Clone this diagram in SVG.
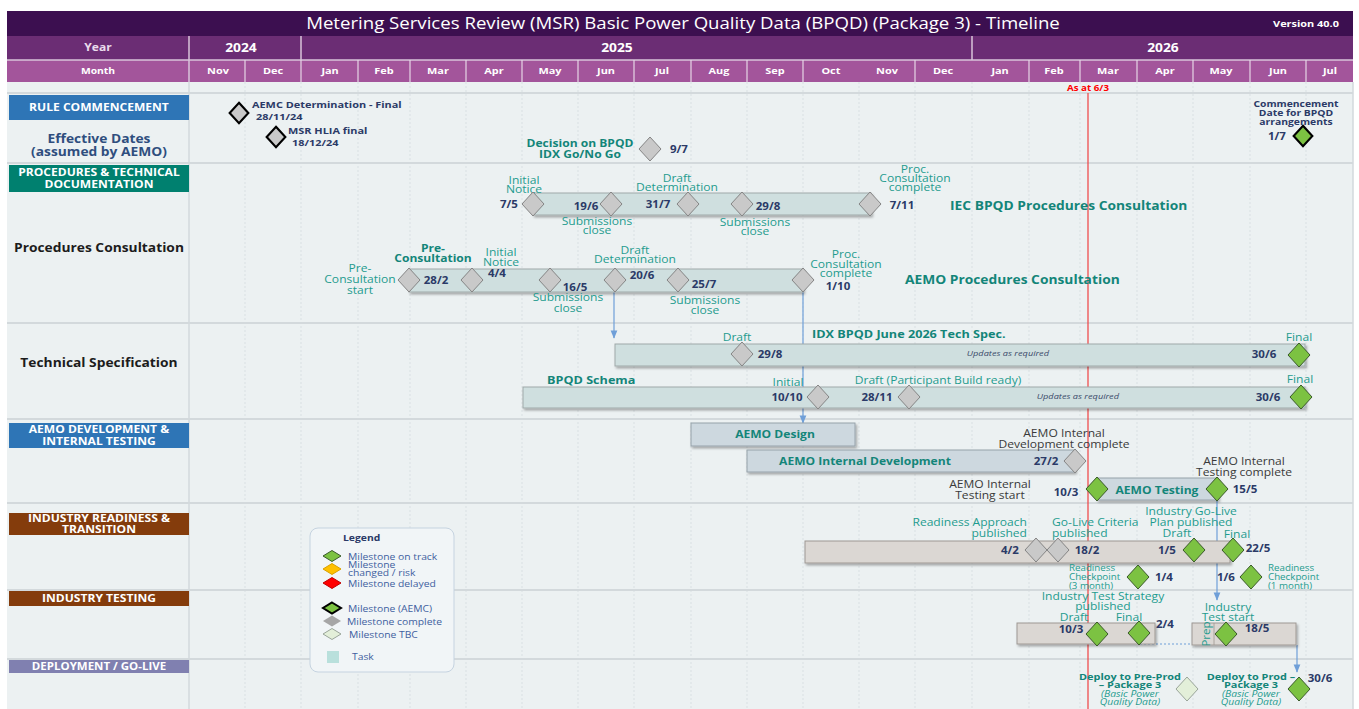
<svg xmlns="http://www.w3.org/2000/svg" width="1359" height="709" viewBox="0 0 1359 709">
<defs>
<style>
text{font-family:"Open Sans","Noto Sans",sans-serif;transform-box:fill-box;transform-origin:50% 50%;transform:scaleX(1.15)}
.s{transform-origin:0 50%}
.e{transform-origin:100% 50%}
.hdr{fill:#fff;font-weight:bold;font-size:9.5px;text-anchor:middle}
.yr{fill:#fff;font-weight:bold;font-size:12px;text-anchor:middle}
.sec{fill:#fff;font-weight:bold;font-size:10.5px;text-anchor:middle}
.lbl{fill:#1c1c1c;font-weight:bold;font-size:12px;text-anchor:middle}
.teal{fill:#1f9c8f;font-size:10.5px;text-anchor:middle}
.tealb{fill:#138579;font-weight:bold;font-size:10.5px;text-anchor:middle}
.big{fill:#138579;font-weight:bold;font-size:12px}
.date{fill:#2b3a67;font-weight:bold;font-size:10px;text-anchor:middle}
.navy{fill:#2b3a67;font-weight:bold;font-size:9.5px}
.gry{fill:#3a3a3a;font-size:10.5px;text-anchor:middle}
.upd{fill:#3a4a6a;font-style:italic;font-size:8px;text-anchor:middle}
.lg{fill:#3f5fa0;font-size:9px}
.dc{fill:#c9c9c9;stroke:#858585;stroke-width:1}
.da{fill:#c9c9c9;stroke:#000;stroke-width:2.5}
.dg{fill:#7cc242;stroke:#3a5a2a;stroke-width:1}
.dga{fill:#7cc242;stroke:#000;stroke-width:2.5}
.dt{fill:#e3efd9;stroke:#9aa59a;stroke-width:1}
.do{fill:#ffc000;stroke:#d9a000;stroke-width:1}
.dr{fill:#ff0000;stroke:#c00000;stroke-width:1}
.bar{fill:#cfdfdf;stroke:#9fa9a9;stroke-width:1;filter:url(#sh)}
.barb{fill:#cdd8df;stroke:#96a2aa;stroke-width:1;filter:url(#sh)}
.barg{fill:#dbd7d3;stroke:#9e9893;stroke-width:1;filter:url(#sh)}
.grid{stroke:#d9e0e3;stroke-width:1;stroke-dasharray:2 2}
.sep{stroke:#d3d9dc;stroke-width:2}
.conn{stroke:#6f9fd8;stroke-width:1.2;fill:none}
</style>
<filter id="sh" x="-5%" y="-20%" width="110%" height="160%">
<feDropShadow dx="1.5" dy="2" stdDeviation="1.2" flood-color="#000" flood-opacity="0.3"/>
</filter>
<path id="dm" d="M0,-12L11,0L0,12L-11,0Z"/>
<path id="dl" d="M0,-5.5L9,0L0,5.5L-9,0Z"/>
<marker id="arr" viewBox="0 0 10 10" refX="9" refY="5" markerWidth="7" markerHeight="7" orient="auto">
<path d="M0,1L10,5L0,9Z" fill="#6f9fd8"/>
</marker>
</defs>

<!-- background -->
<rect x="0" y="0" width="1359" height="709" fill="#fff"/>
<rect x="7" y="82" width="1346" height="627" fill="#ecf1f2"/>

<!-- header -->
<g id="header">
<rect x="7" y="11" width="1346" height="25" fill="#3c0f50"/>
<text x="683" y="29" fill="#fff" font-size="16.2" text-anchor="middle">Metering Services Review (MSR) Basic Power Quality Data (BPQD) (Package 3) - Timeline</text>
<text x="1306" y="27" class="hdr" style="font-size:9.5px">Version 40.0</text>
<rect x="7" y="36" width="1346" height="24" fill="#6b2d74"/>
<rect x="7" y="60" width="1346" height="22" fill="#a3559b"/>
<g stroke="#d8c4da" stroke-width="1.5">
<line x1="189" y1="36" x2="189" y2="82"/>
<line x1="301" y1="36" x2="301" y2="60"/>
<line x1="972" y1="36" x2="972" y2="60"/>
<line x1="7" y1="60" x2="1353" y2="60"/>
</g>
<g stroke="#e6d6e6" stroke-width="1.2">
<line x1="245" y1="60" x2="245" y2="82"/><line x1="301" y1="60" x2="301" y2="82"/><line x1="358" y1="60" x2="358" y2="82"/><line x1="410" y1="60" x2="410" y2="82"/><line x1="466" y1="60" x2="466" y2="82"/><line x1="522" y1="60" x2="522" y2="82"/><line x1="578" y1="60" x2="578" y2="82"/><line x1="634" y1="60" x2="634" y2="82"/><line x1="691" y1="60" x2="691" y2="82"/><line x1="747" y1="60" x2="747" y2="82"/><line x1="803" y1="60" x2="803" y2="82"/><line x1="915" y1="60" x2="915" y2="82"/><line x1="1029" y1="60" x2="1029" y2="82"/><line x1="1080" y1="60" x2="1080" y2="82"/><line x1="1137" y1="60" x2="1137" y2="82"/><line x1="1193" y1="60" x2="1193" y2="82"/><line x1="1250" y1="60" x2="1250" y2="82"/><line x1="1306" y1="60" x2="1306" y2="82"/>
</g>
<text x="98" y="51" class="hdr" style="font-size:10.5px;fill:#eadcec">Year</text>
<text x="241" y="52" class="yr">2024</text>
<text x="617" y="52" class="yr">2025</text>
<text x="1163" y="52" class="yr">2026</text>
<text x="98" y="74" class="hdr" style="font-size:9px">Month</text>
<g>
<text x="218" y="74" class="hdr">Nov</text><text x="273" y="74" class="hdr">Dec</text><text x="330" y="74" class="hdr">Jan</text><text x="384" y="74" class="hdr">Feb</text><text x="438" y="74" class="hdr">Mar</text><text x="494" y="74" class="hdr">Apr</text><text x="550" y="74" class="hdr">May</text><text x="606" y="74" class="hdr">Jun</text><text x="662" y="74" class="hdr">Jul</text><text x="719" y="74" class="hdr">Aug</text><text x="775" y="74" class="hdr">Sep</text><text x="831" y="74" class="hdr">Oct</text><text x="887" y="74" class="hdr">Nov</text><text x="943" y="74" class="hdr">Dec</text><text x="1000" y="74" class="hdr">Jan</text><text x="1054" y="74" class="hdr">Feb</text><text x="1108" y="74" class="hdr">Mar</text><text x="1165" y="74" class="hdr">Apr</text><text x="1221" y="74" class="hdr">May</text><text x="1278" y="74" class="hdr">Jun</text><text x="1330" y="74" class="hdr">Jul</text>
</g>
</g>

<!-- grid -->
<g id="grid">
<line x1="189" y1="82" x2="189" y2="709" stroke="#d3d9dc" stroke-width="1.5"/>
<g class="grid">
<line x1="245" y1="82" x2="245" y2="709"/><line x1="301" y1="82" x2="301" y2="709"/><line x1="358" y1="82" x2="358" y2="709"/><line x1="410" y1="82" x2="410" y2="709"/><line x1="466" y1="82" x2="466" y2="709"/><line x1="522" y1="82" x2="522" y2="709"/><line x1="578" y1="82" x2="578" y2="709"/><line x1="634" y1="82" x2="634" y2="709"/><line x1="691" y1="82" x2="691" y2="709"/><line x1="747" y1="82" x2="747" y2="709"/><line x1="803" y1="82" x2="803" y2="709"/><line x1="859" y1="82" x2="859" y2="709"/><line x1="915" y1="82" x2="915" y2="709"/><line x1="972" y1="82" x2="972" y2="709"/><line x1="1029" y1="82" x2="1029" y2="709"/><line x1="1080" y1="82" x2="1080" y2="709"/><line x1="1137" y1="82" x2="1137" y2="709"/><line x1="1193" y1="82" x2="1193" y2="709"/><line x1="1250" y1="82" x2="1250" y2="709"/><line x1="1306" y1="82" x2="1306" y2="709"/>
</g>
<g class="sep">
<line x1="7" y1="93" x2="1353" y2="93"/><line x1="7" y1="163" x2="1353" y2="163"/><line x1="7" y1="323" x2="1353" y2="323"/><line x1="7" y1="419" x2="1353" y2="419"/><line x1="7" y1="503" x2="1353" y2="503"/><line x1="7" y1="590" x2="1353" y2="590"/><line x1="7" y1="659" x2="1353" y2="659"/>
</g>
<line x1="1353" y1="82" x2="1353" y2="709" stroke="#d3d9dc" stroke-width="1.5"/>
</g>

<!-- left labels -->
<g id="sec-rule"><rect x="9" y="95" width="180" height="25" fill="#2e75b6"/><text x="99" y="111" class="sec">RULE COMMENCEMENT</text></g>
<g id="lbl-effective"><text x="99" y="143" class="lbl" style="fill:#2f4e7e">Effective Dates</text><text x="99" y="156" class="lbl" style="fill:#2f4e7e">(assumed by AEMO)</text></g>
<g id="sec-proc"><rect x="9" y="165" width="180" height="27" fill="#00806f"/><text x="99" y="176" class="sec">PROCEDURES &amp; TECHNICAL</text><text x="99" y="188" class="sec">DOCUMENTATION</text></g>
<g id="lbl-procons"><text x="99" y="252" class="lbl">Procedures Consultation</text></g>
<g id="lbl-techspec"><text x="99" y="367" class="lbl">Technical Specification</text></g>
<g id="sec-aemodev"><rect x="9" y="423" width="180" height="25" fill="#2e75b6"/><text x="99" y="433" class="sec">AEMO DEVELOPMENT &amp;</text><text x="99" y="445" class="sec">INTERNAL TESTING</text></g>
<g id="sec-readiness"><rect x="9" y="513" width="180" height="22" fill="#843c0c"/><text x="99" y="522" class="sec">INDUSTRY READINESS &amp;</text><text x="99" y="533" class="sec">TRANSITION</text></g>
<g id="sec-indtest"><rect x="9" y="591" width="180" height="15" fill="#843c0c"/><text x="99" y="602" class="sec">INDUSTRY TESTING</text></g>
<g id="sec-deploy"><rect x="9" y="660" width="180" height="13" fill="#8080b0"/><text x="99" y="670" class="sec" style="font-size:10px">DEPLOYMENT / GO-LIVE</text></g>

<!-- status line -->
<g id="asat">
<line x1="1088" y1="93" x2="1088" y2="709" stroke="#f04040" stroke-width="1.2"/>
<text x="1088" y="91" fill="#ff0000" font-weight="bold" font-size="8.5" text-anchor="middle">As at 6/3</text>
</g>

<!-- connectors -->
<g id="connectors">
<line x1="614" y1="292" x2="614" y2="338" class="conn" marker-end="url(#arr)"/>
<line x1="803" y1="292" x2="803" y2="423" class="conn" marker-end="url(#arr)"/>
<line x1="1217" y1="500" x2="1217" y2="600" class="conn" marker-end="url(#arr)"/>
<line x1="1140" y1="644" x2="1193" y2="644" stroke="#6f9fd8" stroke-width="1.2" stroke-dasharray="2 2"/>
<line x1="1297" y1="645" x2="1297" y2="672" class="conn" marker-end="url(#arr)"/>
</g>

<!-- Row 1 milestones -->
<g id="m-aemc">
<use href="#dm" class="da" transform="translate(239 113) scale(0.85)"/>
<text x="252" y="108" class="navy s">AEMC Determination - Final</text>
<text x="256" y="120" class="navy s">28/11/24</text>
</g>
<g id="m-hlia">
<use href="#dm" class="da" transform="translate(276 137) scale(0.85)"/>
<text x="288" y="134" class="navy s">MSR HLIA final</text>
<text x="292" y="146" class="navy s">18/12/24</text>
</g>
<g id="m-decision">
<text x="580" y="147" class="tealb">Decision on BPQD</text>
<text x="580" y="158" class="tealb">IDX Go/No Go</text>
<use href="#dm" x="650" y="149" class="dc"/>
<text x="679" y="153" class="date">9/7</text>
</g>
<g id="m-commence">
<text x="1296" y="107" class="date" style="font-size:9px">Commencement</text>
<text x="1296" y="116" class="date" style="font-size:9px">Date for BPQD</text>
<text x="1296" y="125" class="date" style="font-size:9px">arrangements</text>
<text x="1277" y="140" class="date">1/7</text>
<use href="#dm" class="dga" transform="translate(1303 136) scale(0.85)"/>
</g>

<!-- IEC procedures consultation -->
<g id="iec">
<rect x="533" y="193" width="338" height="22" class="bar"/>
<text x="524" y="184" class="teal">Initial</text><text x="524" y="193" class="teal">Notice</text>
<text x="509" y="208" class="date">7/5</text>
<use href="#dm" x="533" y="204" class="dc"/>
<text x="586" y="210" class="date">19/6</text>
<use href="#dm" x="611" y="204" class="dc"/>
<text x="597" y="225" class="teal">Submissions</text><text x="597" y="234" class="teal">close</text>
<text x="658" y="208" class="date">31/7</text>
<use href="#dm" x="688" y="204" class="dc"/>
<text x="677" y="182" class="teal">Draft</text><text x="677" y="191" class="teal">Determination</text>
<use href="#dm" x="742" y="204" class="dc"/>
<text x="768" y="210" class="date">29/8</text>
<text x="755" y="226" class="teal">Submissions</text><text x="755" y="235" class="teal">close</text>
<use href="#dm" x="870" y="204" class="dc"/>
<text x="902" y="209" class="date">7/11</text>
<text x="915" y="173" class="teal">Proc.</text><text x="915" y="182" class="teal">Consultation</text><text x="915" y="191" class="teal">complete</text>
<text x="950" y="210" class="big s">IEC BPQD  Procedures Consultation</text>
</g>

<!-- AEMO procedures consultation -->
<g id="aemo-proc">
<rect x="409" y="269" width="394" height="23" class="bar"/>
<text x="360" y="272" class="teal">Pre-</text><text x="360" y="283" class="teal">Consultation</text><text x="360" y="294" class="teal">start</text>
<text x="433" y="252" class="tealb">Pre-</text><text x="433" y="262" class="tealb">Consultation</text>
<use href="#dm" x="409" y="280" class="dc"/>
<text x="436" y="284" class="date">28/2</text>
<use href="#dm" x="472" y="280" class="dc"/>
<text x="501" y="256" class="teal">Initial</text><text x="501" y="266" class="teal">Notice</text>
<text x="497" y="277" class="date">4/4</text>
<use href="#dm" x="550" y="280" class="dc"/>
<text x="575" y="291" class="date">16/5</text>
<text x="568" y="301" class="teal">Submissions</text><text x="568" y="312" class="teal">close</text>
<use href="#dm" x="615" y="280" class="dc"/>
<text x="642" y="279" class="date">20/6</text>
<text x="635" y="254" class="teal">Draft</text><text x="635" y="263" class="teal">Determination</text>
<use href="#dm" x="678" y="280" class="dc"/>
<text x="704" y="288" class="date">25/7</text>
<text x="705" y="304" class="teal">Submissions</text><text x="705" y="314" class="teal">close</text>
<use href="#dm" x="803" y="280" class="dc"/>
<text x="838" y="290" class="date">1/10</text>
<text x="846" y="258" class="teal">Proc.</text><text x="846" y="268" class="teal">Consultation</text><text x="846" y="277" class="teal">complete</text>
<text x="905" y="284" class="big s">AEMO Procedures Consultation</text>
</g>

<!-- Technical specification -->
<g id="techspec">
<rect x="615" y="344" width="690" height="22" class="bar"/>
<text x="812" y="338" class="big s" style="font-size:11px">IDX BPQD June 2026 Tech Spec.</text>
<text x="737" y="341" class="teal">Draft</text>
<use href="#dm" x="742" y="354" class="dc"/>
<text x="770" y="358" class="date">29/8</text>
<text x="1008" y="356" class="upd">Updates as required</text>
<text x="1264" y="358" class="date">30/6</text>
<use href="#dm" x="1299" y="355" class="dg"/>
<text x="1299" y="341" class="teal">Final</text>
</g>
<g id="schema">
<rect x="523" y="387" width="782" height="21" class="bar"/>
<text x="547" y="384" class="big s" style="font-size:11px">BPQD Schema</text>
<text x="788" y="386" class="teal">Initial</text>
<text x="787" y="401" class="date">10/10</text>
<use href="#dm" x="818" y="397" class="dc"/>
<text x="877" y="401" class="date">28/11</text>
<use href="#dm" x="909" y="397" class="dc"/>
<text x="938" y="384" class="teal">Draft (Participant Build ready)</text>
<text x="1078" y="399" class="upd">Updates as required</text>
<text x="1268" y="401" class="date">30/6</text>
<use href="#dm" x="1301" y="397" class="dg"/>
<text x="1300" y="383" class="teal">Final</text>
</g>

<!-- AEMO development -->
<g id="aemo-design">
<rect x="691" y="423" width="164" height="23" class="barb"/>
<text x="775" y="438" class="tealb">AEMO Design</text>
</g>
<g id="aemo-intdev">
<rect x="747" y="450" width="328" height="22" class="barb"/>
<text x="865" y="465" class="tealb">AEMO Internal Development</text>
<text x="1046" y="465" class="date">27/2</text>
<use href="#dm" x="1075" y="461" class="dc"/>
<text x="1064" y="437" class="gry">AEMO Internal</text><text x="1064" y="448" class="gry">Development complete</text>
</g>
<g id="aemo-testing">
<rect x="1097" y="478" width="121" height="22" class="barb"/>
<use href="#dm" x="1097" y="489" class="dg"/>
<use href="#dm" x="1217" y="489" class="dg"/>
<text x="1157" y="494" class="tealb">AEMO Testing</text>
<text x="1066" y="496" class="date">10/3</text>
<text x="990" y="488" class="gry">AEMO Internal</text><text x="990" y="499" class="gry">Testing start</text>
<text x="1245" y="493" class="date">15/5</text>
<text x="1244" y="465" class="gry">AEMO Internal</text><text x="1244" y="476" class="gry">Testing complete</text>
</g>

<!-- Industry readiness -->
<g id="readiness">
<rect x="805" y="541" width="425" height="22" class="barg"/>
<text x="1027" y="526" class="teal e" style="text-anchor:end">Readiness Approach</text>
<text x="1027" y="537" class="teal e" style="text-anchor:end">published</text>
<text x="1010" y="554" class="date">4/2</text>
<use href="#dm" x="1036" y="550" class="dc"/>
<use href="#dm" x="1058" y="550" class="dc"/>
<text x="1087" y="554" class="date">18/2</text>
<text x="1052" y="526" class="teal s" style="text-anchor:start">Go-Live Criteria</text>
<text x="1052" y="537" class="teal s" style="text-anchor:start">published</text>
<text x="1191" y="515" class="teal">Industry Go-Live</text>
<text x="1191" y="526" class="teal">Plan published</text>
<text x="1177" y="537" class="teal">Draft</text>
<text x="1237" y="538" class="teal">Final</text>
<text x="1167" y="554" class="date">1/5</text>
<use href="#dm" x="1194" y="550" class="dg"/>
<use href="#dm" x="1233" y="550" class="dg"/>
<text x="1258" y="552" class="date">22/5</text>
</g>
<g id="checkpoint3">
<text x="1069" y="571" class="teal s" style="text-anchor:start;font-size:8.5px">Readiness</text>
<text x="1069" y="580" class="teal s" style="text-anchor:start;font-size:8.5px">Checkpoint</text>
<text x="1069" y="589" class="teal s" style="text-anchor:start;font-size:8.5px">(3 month)</text>
<use href="#dm" x="1138" y="577" class="dg"/>
<text x="1164" y="581" class="date">1/4</text>
</g>
<g id="checkpoint1">
<text x="1226" y="581" class="date">1/6</text>
<use href="#dm" x="1251" y="577" class="dg"/>
<text x="1268" y="571" class="teal s" style="text-anchor:start;font-size:8.5px">Readiness</text>
<text x="1268" y="580" class="teal s" style="text-anchor:start;font-size:8.5px">Checkpoint</text>
<text x="1268" y="589" class="teal s" style="text-anchor:start;font-size:8.5px">(1 month)</text>
</g>

<!-- Industry testing -->
<g id="test-strategy">
<rect x="1017" y="623" width="138" height="21" class="barg"/>
<text x="1103" y="600" class="teal">Industry Test Strategy</text>
<text x="1103" y="610" class="teal">published</text>
<text x="1074" y="621" class="teal">Draft</text>
<text x="1071" y="633" class="date">10/3</text>
<use href="#dm" x="1097" y="634" class="dg"/>
<text x="1129" y="621" class="teal">Final</text>
<use href="#dm" x="1139" y="633" class="dg"/>
<text x="1165" y="628" class="date">2/4</text>
</g>
<g id="test-start">
<rect x="1192" y="623" width="104" height="22" class="barg"/>
<line x1="1214" y1="623" x2="1214" y2="645" stroke="#9e9893" stroke-width="0.8"/>
<text x="1207" y="637" class="teal" style="transform-box:view-box;transform-origin:1207px 634px;transform:rotate(-90deg) scaleX(1.1)">Prep</text>
<use href="#dm" x="1226" y="634" class="dg"/>
<text x="1257" y="632" class="date">18/5</text>
<text x="1228" y="611" class="teal">Industry</text>
<text x="1228" y="621" class="teal">Test start</text>
</g>

<!-- Deployment -->
<g id="deploy-preprod">
<text x="1130" y="680" class="tealb" style="font-size:9.5px">Deploy to Pre-Prod</text>
<text x="1130" y="688" class="tealb" style="font-size:9.5px">– Package 3</text>
<text x="1130" y="697" class="teal" style="font-size:9px;font-style:italic">(Basic Power</text>
<text x="1130" y="705" class="teal" style="font-size:9px;font-style:italic">Quality Data)</text>
<use href="#dm" x="1187" y="689" class="dt"/>
</g>
<g id="deploy-prod">
<text x="1251" y="680" class="tealb" style="font-size:9.5px">Deploy to Prod –</text>
<text x="1251" y="688" class="tealb" style="font-size:9.5px">Package 3</text>
<text x="1251" y="697" class="teal" style="font-size:9px;font-style:italic">(Basic Power</text>
<text x="1251" y="705" class="teal" style="font-size:9px;font-style:italic">Quality Data)</text>
<use href="#dm" x="1299" y="689" class="dg"/>
<text x="1320" y="682" class="date">30/6</text>
</g>

<!-- Legend -->
<g id="legend">
<rect x="310" y="528" width="144" height="144" rx="8" fill="#f1f5f7" stroke="#c5d3e0" stroke-width="1"/>
<text x="343" y="541" class="s" fill="#2b3a67" font-weight="bold" font-size="9">Legend</text>
<use href="#dl" x="332" y="556" class="dg"/>
<text x="348" y="560" class="lg s">Milestone on track</text>
<use href="#dl" x="332" y="569" class="do"/>
<text x="348" y="568" class="lg s">Milestone</text>
<text x="348" y="576" class="lg s">changed / risk</text>
<use href="#dl" x="332" y="583" class="dr"/>
<text x="348" y="587" class="lg s">Milestone delayed</text>
<use href="#dl" x="332" y="608" class="dga" style="stroke-width:2"/>
<text x="348" y="612" class="lg s">Milestone (AEMC)</text>
<use href="#dl" x="332" y="621" fill="#a6a6a6"/>
<text x="347" y="625" class="lg s">Milestone complete</text>
<use href="#dl" x="332" y="634" class="dt"/>
<text x="349" y="638" class="lg s">Milestone TBC</text>
<rect x="327" y="651" width="12" height="12" fill="#b9e0dc"/>
<text x="352" y="660" class="lg s">Task</text>
</g>
</svg>
